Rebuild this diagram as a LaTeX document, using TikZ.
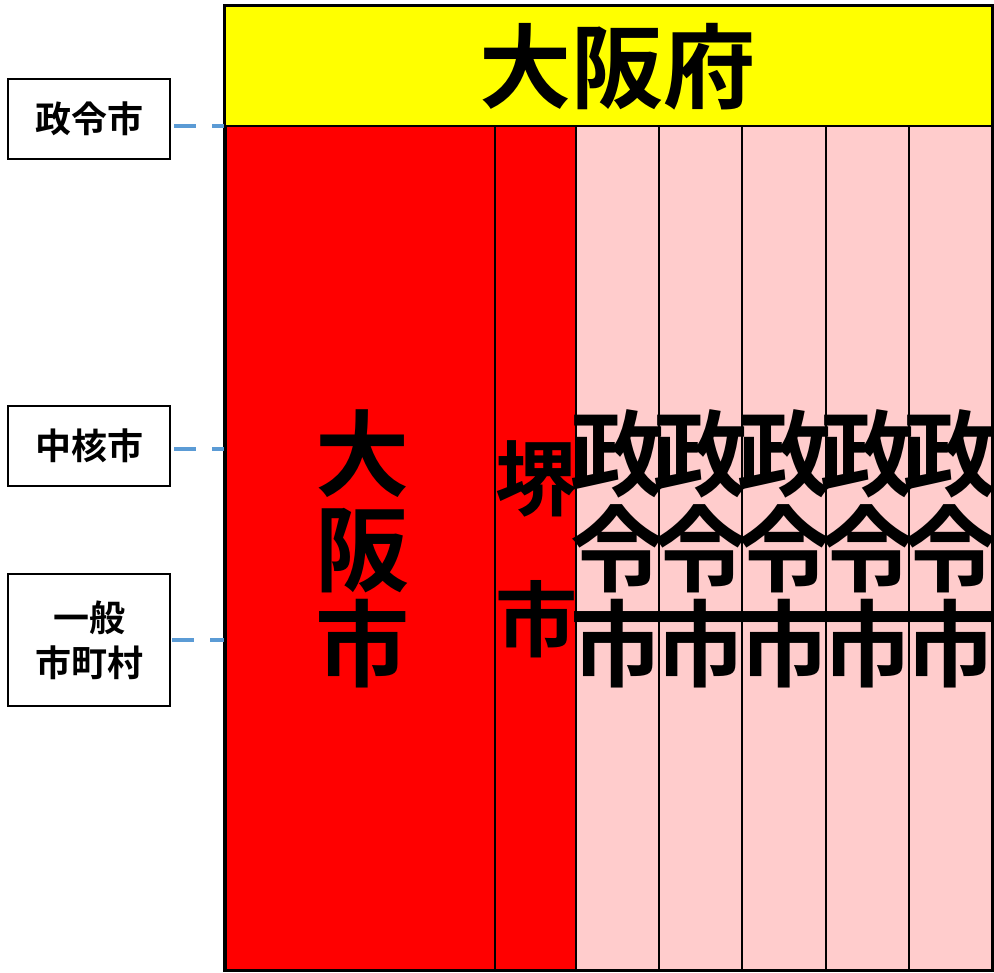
\documentclass[tikz,border=0pt]{standalone}
\usepackage{fontspec}
\newfontfamily\jp{Noto Sans CJK JP}[UprightFont=* Bold]
\definecolor{osakared}{HTML}{FF0000}
\definecolor{cellpink}{HTML}{FFCCCC}
\definecolor{prefyellow}{HTML}{FFFF00}
\definecolor{dashblue}{HTML}{5B9BD5}
\begin{document}
\begin{tikzpicture}[x=1pt,y=-1pt,
  lbl/.style={draw=black,line width=2pt,fill=white,minimum width=162pt,inner sep=0pt,align=center,
    font=\jp\fontsize{36}{45}\selectfont},
  conn/.style={draw=dashblue,line width=4.5pt,dash pattern=on 22pt off 16pt},
  cell/.style={draw=black,line width=2pt},
  bigtxt/.style={inner sep=0pt,align=center,font=\jp\fontsize{94}{95}\selectfont},
]
\useasboundingbox (0,0) rectangle (994,973);
% cells
\path[cell,fill=prefyellow] (224,6) rectangle (992,126);
\path[cell,fill=osakared] (226,126) rectangle (495,970);
\path[cell,fill=osakared] (495,126) rectangle (576,970);
\foreach \a/\b in {576/659,659/742,742/826,826/909,909/992}{
  \path[cell,fill=cellpink] (\a,126) rectangle (\b,970);
}
\draw[line width=3pt] (224,6) rectangle (992,970);
% texts
\node[bigtxt,font=\jp\fontsize{92}{95}\selectfont] (pref) at (617,67) {大阪府};
\node[bigtxt] (osaka) at (362,549) {大\\阪\\市};
\node[bigtxt,font=\jp\fontsize{82}{141}\selectfont] (sakai) at (536,549) {堺\\市};
\foreach \x/\n in {617/s1,700/s2,784/s3,867/s4,950/s5}{
  \node[bigtxt] (\n) at (\x,549) {政\\令\\市};
}
% labels
\node[lbl,minimum height=80pt] (seirei) at (89,119) {政令市};
\node[lbl,minimum height=80pt] (chukaku) at (89,446) {中核市};
\node[lbl,minimum height=132pt] (ippan) at (89,640) {一般\\市町村};
% connectors
\coordinate (f1) at (224,126);
\coordinate (f2) at (224,449);
\coordinate (f3) at (224,640);
\draw[conn] ([xshift=3pt]seirei.east |- f1) -- (f1);
\draw[conn] ([xshift=3pt]chukaku.east |- f2) -- (f2);
\draw[conn] ([xshift=1pt]ippan.east |- f3) -- (f3);
\end{tikzpicture}
\end{document}
